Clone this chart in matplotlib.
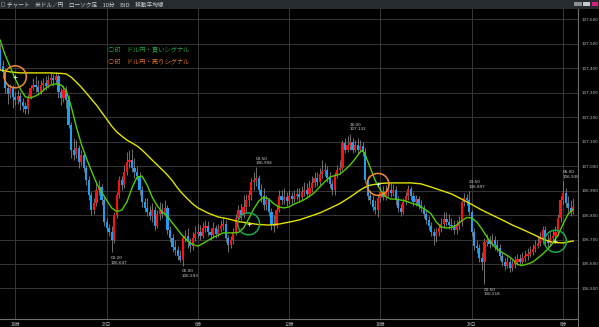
import matplotlib
matplotlib.use("Agg")
import matplotlib.pyplot as plt
from matplotlib.patches import Rectangle
from matplotlib.lines import Line2D
import numpy as np

plt.rcParams['font.family'] = ['Noto Sans CJK JP', 'DejaVu Sans']

# ---------------- data (USD/JPY, 10-minute candles, index 0 = 18:00 on the 22nd) ----------------
candle_start = -6
opens = [
    107.474, 107.409, 107.384, 107.319, 107.294, 107.319, 107.282, 107.270, 107.286, 107.262,
    107.246, 107.233, 107.282, 107.319, 107.331, 107.323, 107.303, 107.331, 107.339, 107.327,
    107.352, 107.360, 107.352, 107.368, 107.303, 107.278, 107.311, 107.270, 107.168, 107.066,
    107.046, 107.074, 107.017, 107.046, 106.993, 106.944, 106.882, 106.821, 106.850, 106.903,
    106.915, 106.862, 106.772, 106.748, 106.731, 106.699, 106.801, 106.882, 106.944, 106.923,
    106.976, 107.017, 107.025, 106.993, 106.976, 106.960, 106.903, 106.854, 106.829, 106.813,
    106.797, 106.821, 106.756, 106.805, 106.821, 106.805, 106.829, 106.740, 106.707, 106.670,
    106.658, 106.633, 106.617, 106.707, 106.715, 106.691, 106.674, 106.707, 106.723, 106.731,
    106.715, 106.748, 106.756, 106.731, 106.719, 106.748, 106.723, 106.744, 106.756, 106.764,
    106.707, 106.678, 106.699, 106.731, 106.789, 106.821, 106.801, 106.834, 106.862, 106.882,
    106.935, 106.944, 106.952, 106.903, 106.878, 106.842, 106.862, 106.813, 106.760, 106.756,
    106.821, 106.878, 106.862, 106.874, 106.858, 106.878, 106.866, 106.878, 106.887, 106.874,
    106.895, 106.903, 106.887, 106.911, 106.931, 106.952, 106.935, 106.968, 106.980, 106.984,
    106.952, 106.927, 106.903, 106.960, 106.984, 106.993, 107.095, 107.066, 107.086, 107.099,
    107.066, 107.086, 107.066, 107.082, 107.058, 106.944, 106.878, 106.862, 106.834, 106.821,
    106.870, 106.895, 106.874, 106.895, 106.903, 106.891, 106.903, 106.862, 106.829, 106.813,
    106.854, 106.878, 106.907, 106.878, 106.854, 106.866, 106.842, 106.829, 106.805, 106.780,
    106.756, 106.731, 106.715, 106.731, 106.748, 106.764, 106.785, 106.772, 106.760, 106.756,
    106.740, 106.756, 106.772, 106.854, 106.870, 106.862, 106.813, 106.731, 106.674, 106.666,
    106.625, 106.609, 106.691, 106.699, 106.683, 106.699, 106.678, 106.666, 106.633, 106.609,
    106.593, 106.609, 106.585, 106.601, 106.609, 106.621, 106.609, 106.625, 106.633, 106.642,
    106.650, 106.662, 106.674, 106.687, 106.707, 106.740, 106.699, 106.687, 106.707, 106.715,
    106.731, 106.789, 106.862, 106.891, 106.850, 106.829, 106.813,
]
highs = [
    107.498, 107.433, 107.401, 107.335, 107.335, 107.331, 107.303, 107.311, 107.303, 107.278,
    107.262, 107.294, 107.331, 107.360, 107.368, 107.352, 107.352, 107.360, 107.368, 107.372,
    107.384, 107.376, 107.384, 107.376, 107.319, 107.331, 107.327, 107.290, 107.180, 107.115,
    107.107, 107.086, 107.066, 107.058, 107.005, 106.960, 106.895, 106.870, 106.931, 106.944,
    106.927, 106.874, 106.789, 106.764, 106.756, 106.813, 106.895, 106.960, 106.960, 107.005,
    107.058, 107.066, 107.070, 107.033, 107.001, 106.976, 106.919, 106.870, 106.870, 106.838,
    106.850, 106.838, 106.821, 106.854, 106.850, 106.862, 106.842, 106.756, 106.723, 106.699,
    106.674, 106.658, 106.719, 106.740, 106.748, 106.707, 106.731, 106.756, 106.764, 106.760,
    106.772, 106.780, 106.776, 106.748, 106.772, 106.760, 106.764, 106.780, 106.789, 106.780,
    106.719, 106.715, 106.748, 106.805, 106.842, 106.846, 106.882, 106.887, 106.903, 106.952,
    106.976, 106.994, 106.964, 106.927, 106.911, 106.882, 106.870, 106.829, 106.801, 106.838,
    106.903, 106.903, 106.911, 106.895, 106.903, 106.895, 106.903, 106.911, 106.911, 106.919,
    106.935, 106.931, 106.944, 106.960, 106.976, 106.976, 106.993, 107.025, 107.013, 107.001,
    106.976, 106.944, 106.976, 107.005, 107.025, 107.107, 107.115, 107.123, 107.132, 107.115,
    107.107, 107.115, 107.107, 107.099, 107.074, 106.960, 106.903, 106.882, 106.862, 106.882,
    106.923, 106.919, 106.923, 106.944, 106.931, 106.927, 106.919, 106.878, 106.846, 106.870,
    106.895, 106.923, 106.919, 106.895, 106.882, 106.878, 106.862, 106.842, 106.821, 106.797,
    106.772, 106.748, 106.748, 106.764, 106.789, 106.813, 106.813, 106.805, 106.789, 106.780,
    106.780, 106.797, 106.862, 106.891, 106.887, 106.897, 106.821, 106.748, 106.699, 106.683,
    106.650, 106.707, 106.723, 106.715, 106.723, 106.715, 106.699, 106.683, 106.650, 106.625,
    106.633, 106.625, 106.617, 106.633, 106.642, 106.642, 106.650, 106.658, 106.666, 106.674,
    106.683, 106.699, 106.715, 106.731, 106.756, 106.756, 106.723, 106.731, 106.740, 106.756,
    106.805, 106.878, 106.938, 106.911, 106.878, 106.862, 106.870,
]
lows = [
    107.392, 107.360, 107.299, 107.254, 107.278, 107.237, 107.250, 107.254, 107.229, 107.221,
    107.213, 107.213, 107.274, 107.311, 107.303, 107.290, 107.294, 107.311, 107.311, 107.319,
    107.335, 107.327, 107.335, 107.278, 107.250, 107.262, 107.237, 107.156, 107.033, 107.025,
    107.033, 106.993, 107.005, 106.976, 106.923, 106.862, 106.801, 106.805, 106.838, 106.882,
    106.842, 106.756, 106.731, 106.715, 106.647, 106.687, 106.789, 106.870, 106.903, 106.911,
    106.964, 106.993, 106.976, 106.952, 106.944, 106.882, 106.834, 106.813, 106.797, 106.780,
    106.772, 106.740, 106.748, 106.780, 106.789, 106.797, 106.723, 106.691, 106.650, 106.638,
    106.617, 106.609, 106.593, 106.691, 106.666, 106.650, 106.658, 106.695, 106.707, 106.699,
    106.707, 106.731, 106.715, 106.699, 106.707, 106.707, 106.711, 106.731, 106.740, 106.691,
    106.650, 106.666, 106.683, 106.719, 106.772, 106.780, 106.789, 106.813, 106.838, 106.862,
    106.903, 106.919, 106.887, 106.854, 106.821, 106.821, 106.797, 106.740, 106.731, 106.748,
    106.813, 106.846, 106.846, 106.838, 106.846, 106.846, 106.854, 106.862, 106.854, 106.862,
    106.878, 106.870, 106.874, 106.895, 106.915, 106.919, 106.923, 106.952, 106.960, 106.935,
    106.911, 106.882, 106.882, 106.952, 106.968, 106.984, 107.054, 107.058, 107.066, 107.054,
    107.058, 107.050, 107.058, 107.042, 106.931, 106.862, 106.846, 106.817, 106.805, 106.793,
    106.854, 106.862, 106.862, 106.878, 106.874, 106.878, 106.842, 106.813, 106.797, 106.805,
    106.842, 106.862, 106.862, 106.838, 106.838, 106.825, 106.813, 106.789, 106.764, 106.740,
    106.715, 106.678, 106.691, 106.715, 106.731, 106.748, 106.756, 106.744, 106.740, 106.723,
    106.723, 106.740, 106.756, 106.838, 106.842, 106.801, 106.715, 106.658, 106.646, 106.609,
    106.576, 106.518, 106.674, 106.666, 106.674, 106.658, 106.650, 106.617, 106.593, 106.576,
    106.585, 106.568, 106.572, 106.585, 106.601, 106.593, 106.601, 106.609, 106.617, 106.629,
    106.638, 106.650, 106.666, 106.674, 106.683, 106.683, 106.666, 106.674, 106.691, 106.699,
    106.715, 106.772, 106.846, 106.834, 106.813, 106.797, 106.805,
]
closes = [
    107.409, 107.384, 107.319, 107.294, 107.319, 107.282, 107.270, 107.286, 107.262, 107.246,
    107.233, 107.282, 107.319, 107.331, 107.323, 107.303, 107.331, 107.339, 107.327, 107.352,
    107.360, 107.352, 107.368, 107.303, 107.278, 107.311, 107.270, 107.168, 107.066, 107.046,
    107.074, 107.017, 107.046, 106.993, 106.944, 106.882, 106.821, 106.850, 106.903, 106.915,
    106.862, 106.772, 106.748, 106.731, 106.699, 106.801, 106.882, 106.944, 106.923, 106.976,
    107.017, 107.025, 106.993, 106.976, 106.960, 106.903, 106.854, 106.829, 106.813, 106.797,
    106.821, 106.756, 106.805, 106.821, 106.805, 106.829, 106.740, 106.707, 106.670, 106.658,
    106.633, 106.617, 106.707, 106.715, 106.691, 106.674, 106.707, 106.723, 106.731, 106.715,
    106.748, 106.756, 106.731, 106.719, 106.748, 106.723, 106.744, 106.756, 106.764, 106.707,
    106.678, 106.699, 106.731, 106.789, 106.821, 106.801, 106.834, 106.862, 106.882, 106.935,
    106.944, 106.952, 106.903, 106.878, 106.842, 106.862, 106.813, 106.760, 106.756, 106.821,
    106.878, 106.862, 106.874, 106.858, 106.878, 106.866, 106.878, 106.887, 106.874, 106.895,
    106.903, 106.887, 106.911, 106.931, 106.952, 106.935, 106.968, 106.980, 106.984, 106.952,
    106.927, 106.903, 106.960, 106.984, 106.993, 107.095, 107.066, 107.086, 107.099, 107.066,
    107.086, 107.066, 107.082, 107.058, 106.944, 106.878, 106.862, 106.834, 106.821, 106.870,
    106.895, 106.874, 106.895, 106.903, 106.891, 106.903, 106.862, 106.829, 106.813, 106.854,
    106.878, 106.907, 106.878, 106.854, 106.866, 106.842, 106.829, 106.805, 106.780, 106.756,
    106.731, 106.715, 106.731, 106.748, 106.764, 106.785, 106.772, 106.760, 106.756, 106.740,
    106.756, 106.772, 106.854, 106.870, 106.862, 106.813, 106.731, 106.674, 106.666, 106.625,
    106.609, 106.691, 106.699, 106.683, 106.699, 106.678, 106.666, 106.633, 106.609, 106.593,
    106.609, 106.585, 106.601, 106.609, 106.621, 106.609, 106.625, 106.633, 106.642, 106.650,
    106.662, 106.674, 106.687, 106.707, 106.740, 106.699, 106.687, 106.707, 106.715, 106.731,
    106.789, 106.862, 106.891, 106.850, 106.829, 106.813, 106.834,
]

# short moving average (green)
green_t = list(range(-6, 137, 2)) + [137] + list(range(138, 221, 2))
green_ma = [
    107.514, 107.453, 107.404, 107.355, 107.314, 107.282, 107.278, 107.286, 107.298, 107.318,
    107.331, 107.335, 107.331, 107.310, 107.245, 107.163, 107.090, 107.033, 106.980, 106.931,
    106.894, 106.861, 106.829, 106.814, 106.820, 106.853, 106.910, 106.955, 106.959, 106.922,
    106.873, 106.837, 106.812, 106.794, 106.767, 106.741, 106.714, 106.694, 106.680, 106.673,
    106.684, 106.696, 106.708, 106.718, 106.727, 106.727, 106.727, 106.729, 106.747, 106.784,
    106.824, 106.857, 106.873, 106.865, 106.845, 106.833, 106.829, 106.833, 106.845, 106.853,
    106.863, 106.876, 106.892, 106.914, 106.935, 106.955, 106.961, 106.967, 106.984, 107.004,
    107.029, 107.057, 107.065, 107.045, 106.992, 106.939, 106.902, 106.876, 106.865, 106.865,
    106.861, 106.857, 106.849, 106.843, 106.833, 106.820, 106.804, 106.771, 106.751, 106.747,
    106.749, 106.759, 106.776, 106.790, 106.788, 106.771, 106.743, 106.710, 106.682, 106.661,
    106.647, 106.635, 106.620, 106.598, 106.594, 106.600, 106.608, 106.624, 106.641, 106.661,
    106.686, 106.718, 106.763, 106.804, 106.824,
]

# long moving average (yellow)
yellow_t = [-6, -2, 2, 6, 10, 14, 18] + list(range(20, 73, 2)) + list(range(76, 137, 4)) + [138, 140] + list(range(144, 221, 4))
yellow_ma = [
    107.392, 107.384, 107.380, 107.380, 107.380, 107.380, 107.378,
    107.376, 107.363, 107.343, 107.322, 107.298, 107.273, 107.249, 107.220, 107.192, 107.163,
    107.139, 107.122, 107.106, 107.094, 107.082, 107.065, 107.045, 107.024, 107.004, 106.984,
    106.963, 106.939, 106.910, 106.886, 106.865, 106.845, 106.829,
    106.808, 106.792, 106.784, 106.773, 106.767, 106.761, 106.759, 106.763, 106.771, 106.780,
    106.794, 106.808, 106.827, 106.847, 106.873, 106.902,
    106.914, 106.922,
    106.929, 106.931, 106.931, 106.931, 106.927, 106.914, 106.900, 106.886, 106.865, 106.843,
    106.820, 106.800, 106.780, 106.759, 106.741, 106.722, 106.702, 106.688, 106.686, 106.694,
]

# MA cross signals
signal_t = [0, 92, 143, 213]
signal_price = [107.364, 106.764, 106.925, 106.693]
signal_kind = ['sell', 'buy', 'sell', 'buy']

# high / low annotations
ann_t = [38, 66, 95, 132, 179, 185, 216]
ann_time = ['00:20', '05:00', '09:50', '16:00', '23:50', '00:50', '06:00']
ann_price = [106.647, 106.593, 106.994, 107.132, 106.897, 106.518, 106.938]
ann_side = ['low', 'low', 'high', 'high', 'high', 'low', 'high']

tick_pos = [0, 36, 72, 108, 144, 180, 216]
tick_labels = ['18時', '23日', '6時', '12時', '18時', '24日', '6時']
price_ticks = [106.5, 106.6, 106.7, 106.8, 106.9, 107.0, 107.1, 107.2, 107.3, 107.4, 107.5, 107.6]

title_text = 'チャート　米ドル／円　ローソク足　10分　BID　移動平均線'
legend_buy = '○印　ドル円・買いシグナル'
legend_sell = '○印　ドル円・売りシグナル'

# ---------------- figure ----------------
W, H = 599, 327
fig = plt.figure(figsize=(W / 100, H / 100), dpi=100, facecolor='black')

def fx(px):
    return px / W

def fy(py):
    return 1 - py / H

ax = fig.add_axes([0, fy(319), fx(577.5), fy(8.5) - fy(319)])
ax.set_facecolor('black')

o = np.array(opens)
h = np.array(highs)
l = np.array(lows)
c = np.array(closes)
t = np.arange(candle_start, candle_start + len(c))

up = c >= o
col = np.where(up, '#ff1010', '#1e9ef0')
bottom = np.minimum(o, c)
height = np.maximum(np.abs(c - o), 0.0015)

ax.vlines(t, l, h, color='#8c8c8c', linewidth=0.55, zorder=2)
ax.bar(t, height, bottom=bottom, width=0.86, color=col, linewidth=0, zorder=3)

ax.plot(yellow_t, yellow_ma, color='#e2e200', linewidth=1.0, zorder=4, solid_joinstyle='round')
ax.plot(green_t, green_ma, color='#52cc00', linewidth=1.0, zorder=5, solid_joinstyle='round')

circ_col = ['#f08a30' if k == 'sell' else '#1fa84a' for k in signal_kind]
plus_col = ['#d8ecff' if k == 'sell' else '#ffd6e4' for k in signal_kind]
ax.scatter(signal_t, signal_price, s=250, facecolors='none', edgecolors=circ_col,
           linewidths=1.1, zorder=6)
ax.scatter(signal_t, signal_price, s=8, marker='+', c=plus_col, linewidths=0.6, zorder=7)

for tt, tm, pr, side in zip(ann_t, ann_time, ann_price, ann_side):
    if side == 'high':
        ax.annotate(f'{tm}\n{pr:.3f}', xy=(tt, pr), xytext=(-0.5, 1.8), textcoords='offset points',
                    ha='left', va='bottom', fontsize=3, color='#d2d2d2', linespacing=1.15,
                    family=['DejaVu Sans'], zorder=8)
    else:
        ax.annotate(f'{tm}\n{pr:.3f}', xy=(tt, pr), xytext=(-0.5, -2.6), textcoords='offset points',
                    ha='left', va='top', fontsize=3, color='#d2d2d2', linespacing=1.15,
                    family=['DejaVu Sans'], zorder=8)

ax.set_xlim(-6.033, 221.69)
ax.set_ylim(106.3755, 107.6429)
ax.set_xticks(tick_pos)
ax.set_xticklabels(tick_labels)
ax.set_yticks(price_ticks)
ax.set_yticklabels([f'{v:.3f}' for v in price_ticks], family=['DejaVu Sans'])
ax.yaxis.tick_right()
ax.tick_params(axis='y', length=0, pad=2.6, labelsize=3, labelcolor='#bdbdbd')
ax.tick_params(axis='x', length=0, pad=2.0, labelsize=3.2, labelcolor='#bdbdbd')
ax.grid(True, color='#363636', linewidth=0.7, zorder=0)
ax.set_axisbelow(True)
for s in ax.spines.values():
    s.set_visible(False)

# axis frame lines
fig.add_artist(Line2D([fx(577.5), fx(577.5)], [fy(8.5), 0], transform=fig.transFigure,
                      color='#6e6e6e', linewidth=0.8))
fig.add_artist(Line2D([0, fx(577.5)], [fy(319), fy(319)], transform=fig.transFigure,
                      color='#6e6e6e', linewidth=0.8))

# title bar
fig.add_artist(Rectangle((0, fy(8.5)), 1, 8.5 / H, transform=fig.transFigure,
                         facecolor='#262c30', edgecolor='none'))
fig.add_artist(Rectangle((fx(1.2), fy(6.2)), fx(3), 3.8 / H, transform=fig.transFigure,
                         facecolor='none', edgecolor='#8a8a8a', linewidth=0.4))
fig.text(fx(7), fy(4.3), title_text, fontsize=4.1, color='#d0d0d0', va='center', ha='left')
for x0, x1, fc in [(574, 582, '#8a8f94'), (583, 590, '#c8c8c8'), (591.5, 598, '#d4207c')]:
    fig.add_artist(Rectangle((fx(x0), fy(6.2)), fx(x1 - x0), 3.8 / H, transform=fig.transFigure,
                             facecolor=fc, edgecolor='none'))

# legend texts
fig.text(fx(108.5), fy(50), legend_buy, fontsize=4.5, color='#22a844', va='center', ha='left')
fig.text(fx(108.5), fy(62), legend_sell, fontsize=4.5, color='#d9712b', va='center', ha='left')

fig.savefig('out.png', dpi=100, facecolor='black')
